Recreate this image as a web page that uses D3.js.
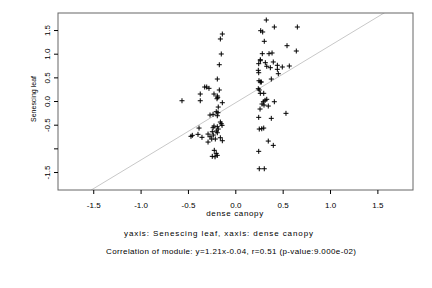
<!DOCTYPE html>
<html>
<head>
<meta charset="utf-8">
<script src="https://cdn.jsdelivr.net/npm/d3@7/dist/d3.min.js"></script>
<style>
  body { margin: 0; background: #fff; }
  svg { display: block; font-family: "Liberation Sans", Arial, sans-serif; }
  text { fill: #000; }
</style>
</head>
<body>
<div id="chart"></div>
<script>
// values
const xTicks = [-1.5, -1.0, -0.5, 0.0, 0.5, 1.0, 1.5];
const yTicks = [-1.5, -1.0, -0.5, 0.0, 0.5, 1.0, 1.5];
const yTickLabels = ['-1.5', '', '-0.5', '0.0', '0.5', '1.0', '1.5'];

const canopyLow = [-0.137, -0.158, -0.148, -0.169, -0.190, -0.323, -0.302, -0.278, -0.169, -0.370,
  -0.225, -0.190, -0.193, -0.186, -0.563, -0.370, -0.137, -0.180, -0.201, -0.183,
  -0.267, -0.235, -0.190, -0.158, -0.148, -0.140, -0.225, -0.235, -0.190, -0.180,
  -0.383, -0.201, -0.243, -0.190, -0.454, -0.468, -0.394, -0.352, -0.288, -0.267,
  -0.232, -0.249, -0.211, -0.288, -0.158, -0.137, -0.222, -0.201, -0.190, -0.243, -0.214];
const leafLow = [1.416, 1.311, 0.994, 0.767, 0.465, 0.296, 0.296, 0.268, 0.233, 0.148,
  0.148, 0.106, 0.049, 0.078, 0.006, 0.006, -0.036, -0.127, -0.226, -0.247,
  -0.296, -0.281, -0.311, -0.444, -0.480, -0.514, -0.529, -0.564, -0.543, -0.592,
  -0.571, -0.634, -0.649, -0.670, -0.725, -0.746, -0.704, -0.767, -0.698, -0.755,
  -0.719, -0.803, -0.803, -0.867, -0.776, -0.839, -1.042, -1.106, -1.148, -1.169, -1.178];

const canopyHigh = [0.327, 0.412, 0.655, 0.268, 0.289, 0.306, 0.546, 0.644, 0.285, 0.356,
  0.388, 0.264, 0.264, 0.317, 0.401, 0.247, 0.332, 0.370, 0.444, 0.496,
  0.570, 0.444, 0.243, 0.247, 0.454, 0.380, 0.250, 0.264, 0.275, 0.243,
  0.253, 0.264, 0.300, 0.332, 0.314, 0.296, 0.412, 0.282, 0.303, 0.348,
  0.261, 0.535, 0.247, 0.380, 0.253, 0.279, 0.300, 0.348, 0.401, 0.247, 0.253, 0.306];
const leafHigh = [1.712, 1.564, 1.564, 1.486, 1.459, 1.262, 1.169, 1.057, 1.000, 1.000,
  1.015, 0.873, 0.852, 0.810, 0.825, 0.789, 0.734, 0.704, 0.755, 0.719,
  0.740, 0.670, 0.649, 0.598, 0.577, 0.465, 0.429, 0.402, 0.402, 0.260,
  0.233, 0.163, 0.163, 0.036, 0.015, -0.015, -0.015, -0.063, -0.085, -0.106,
  -0.169, -0.260, -0.345, -0.366, -0.592, -0.586, -0.571, -0.846, -0.937, -1.063, -1.431, -1.431];

const slope = 1.21, intercept = -0.04;
const xLabel = 'dense canopy';
const yLabel = 'Senescing leaf';
const subtitle = 'yaxis: Senescing leaf, xaxis: dense canopy';
const caption = 'Correlation of module: y=1.21x-0.04, r=0.51 (p-value:9.000e-02)';

const points = canopyLow.map((x, i) => ({ x, y: leafLow[i] }))
  .concat(canopyHigh.map((x, i) => ({ x, y: leafHigh[i] })));

const W = 432, H = 288;
const box = { left: 58, top: 13, right: 413, bottom: 190 };

const svg = d3.select('#chart').append('svg')
  .attr('width', W).attr('height', H);

const x = d3.scaleLinear().domain([-1.872, 1.876]).range([box.left, box.right]);
const y = d3.scaleLinear().domain([-1.88, 1.86]).range([box.bottom, box.top]);

svg.append('clipPath').attr('id', 'plot-clip')
  .append('rect')
  .attr('x', box.left).attr('y', box.top)
  .attr('width', box.right - box.left).attr('height', box.bottom - box.top);

// fit line
const xs = x.domain();
svg.append('line')
  .attr('clip-path', 'url(#plot-clip)')
  .attr('x1', x(xs[0])).attr('y1', y(slope * xs[0] + intercept))
  .attr('x2', x(xs[1])).attr('y2', y(slope * xs[1] + intercept))
  .attr('stroke', '#c8c8c8').attr('stroke-width', 1);

// points as "+" markers
const s = 2.5;
svg.append('g').selectAll('path')
  .data(points)
  .join('path')
  .attr('d', d => `M${x(d.x) - s},${y(d.y)}h${2 * s}M${x(d.x)},${y(d.y) - s}v${2 * s}`)
  .attr('stroke', '#000').attr('stroke-width', 1).attr('fill', 'none');

// frame
svg.append('rect')
  .attr('x', box.left).attr('y', box.top)
  .attr('width', box.right - box.left).attr('height', box.bottom - box.top)
  .attr('fill', 'none').attr('stroke', '#666').attr('stroke-width', 1);

// x axis
const gx = svg.append('g')
  .attr('transform', `translate(0,${box.bottom})`)
  .call(d3.axisBottom(x).tickValues(xTicks).tickFormat(d3.format('.1f')).tickSize(4).tickPadding(8));
gx.select('.domain').remove();
gx.selectAll('line').attr('stroke', '#000');
gx.selectAll('text').attr('font-size', 8).attr('fill', '#000')
  .text(d => d3.format('.1f')(d).replace('−', '-'));

// y axis
const gy = svg.append('g')
  .attr('transform', `translate(${box.left},0)`)
  .call(d3.axisLeft(y).tickValues(yTicks).tickSize(4).tickFormat((d, i) => yTickLabels[i]));
gy.select('.domain').remove();
gy.selectAll('line').attr('stroke', '#000');
gy.selectAll('text')
  .attr('font-size', 8).attr('fill', '#000')
  .attr('text-anchor', 'middle')
  .attr('x', 0).attr('dy', 0)
  .attr('transform', 'translate(-8,0) rotate(-90)');

// labels, stretched to the widths measured on the reference
function label(str, tx, ty, len, size, rot) {
  return svg.append('text')
    .attr('transform', `translate(${tx},${ty})${rot ? ' rotate(-90)' : ''}`)
    .attr('text-anchor', 'middle').attr('font-size', size)
    .attr('textLength', len).attr('lengthAdjust', 'spacing')
    .text(str);
}
label(xLabel, 234.7, 216, 57, 8);
label(yLabel, 36, 99, 46, 7, true);
label(subtitle, 218.5, 236, 189, 8);
label(caption, 231, 254, 250, 8);
</script>
</body>
</html>
